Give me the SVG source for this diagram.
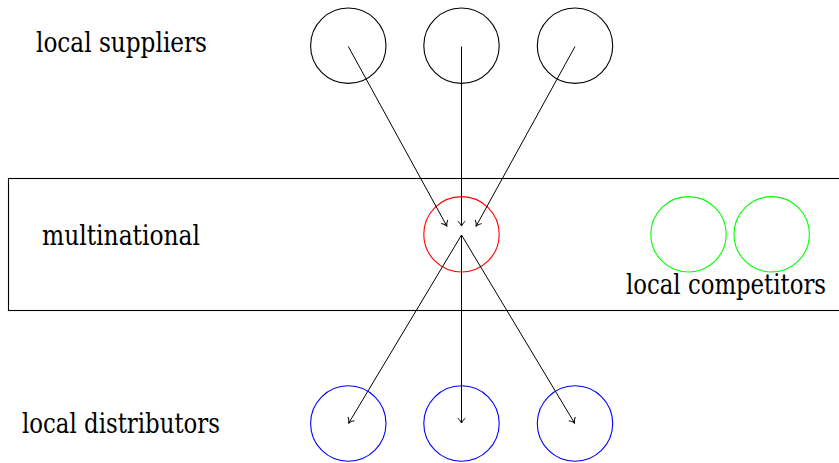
<svg xmlns="http://www.w3.org/2000/svg" width="839" height="463" viewBox="0 0 839 463">
<style>
  .lbl { font-size: 27px; fill: #000; }
  .node { fill: none; stroke-width: 1.1; }
  .sup { stroke: #000; }
  .mn { stroke: #ff0000; }
  .comp { stroke: #00ff00; }
  .dist { stroke: #0000ff; }
  .edge { stroke: #000; stroke-width: 1; fill: none; marker-end: url(#arr); }
</style>
<defs>
  <marker id="arr" markerUnits="userSpaceOnUse" markerWidth="12" markerHeight="12" refX="8" refY="6" orient="auto">
    <path d="M3.2,2.2 Q5,4.8 8,6 Q5,7.2 3.2,9.8" fill="none" stroke="#000" stroke-width="1"/>
  </marker>
</defs>
<rect id="firm-box" x="8.5" y="178.5" width="845" height="132" fill="none" stroke="#000" stroke-width="1.1"/>
<g id="suppliers">
  <circle id="s1" class="node sup" cx="348.3" cy="45.7" r="37.7"/>
  <circle id="s2" class="node sup" cx="461.5" cy="45.7" r="37.7"/>
  <circle id="s3" class="node sup" cx="575" cy="45.7" r="37.7"/>
</g>
<g id="multinational">
  <circle class="node mn" cx="461.5" cy="234.3" r="37.7"/>
</g>
<g id="competitors">
  <circle id="c1" class="node comp" cx="688.5" cy="234.3" r="37.7"/>
  <circle id="c2" class="node comp" cx="771.7" cy="234.3" r="37.7"/>
</g>
<g id="distributors">
  <circle id="d1" class="node dist" cx="348.3" cy="423.5" r="37.7"/>
  <circle id="d2" class="node dist" cx="461.5" cy="423.5" r="37.7"/>
  <circle id="d3" class="node dist" cx="575" cy="423.5" r="37.7"/>
</g>
<g id="connectors">
  <line class="edge" x1="348.3" y1="46.5" x2="446.8" y2="226"/>
  <line class="edge" x1="461.5" y1="46.5" x2="461.5" y2="226"/>
  <line class="edge" x1="575" y1="46.5" x2="476.2" y2="226"/>
  <line class="edge" x1="461.5" y1="235" x2="348.8" y2="423"/>
  <line class="edge" x1="461.5" y1="235" x2="461.5" y2="423"/>
  <line class="edge" x1="461.5" y1="235" x2="574.5" y2="423"/>
</g>
<g id="labels" font-family="DejaVu Serif Condensed, DejaVu Serif, serif">
  <text class="lbl" x="36" y="52" textLength="171" lengthAdjust="spacingAndGlyphs">local suppliers</text>
  <text class="lbl" x="42" y="245" textLength="158" lengthAdjust="spacingAndGlyphs">multinational</text>
  <text class="lbl" x="626" y="294" textLength="200" lengthAdjust="spacingAndGlyphs">local competitors</text>
  <text class="lbl" x="22" y="433" textLength="198" lengthAdjust="spacingAndGlyphs">local distributors</text>
</g>
</svg>
